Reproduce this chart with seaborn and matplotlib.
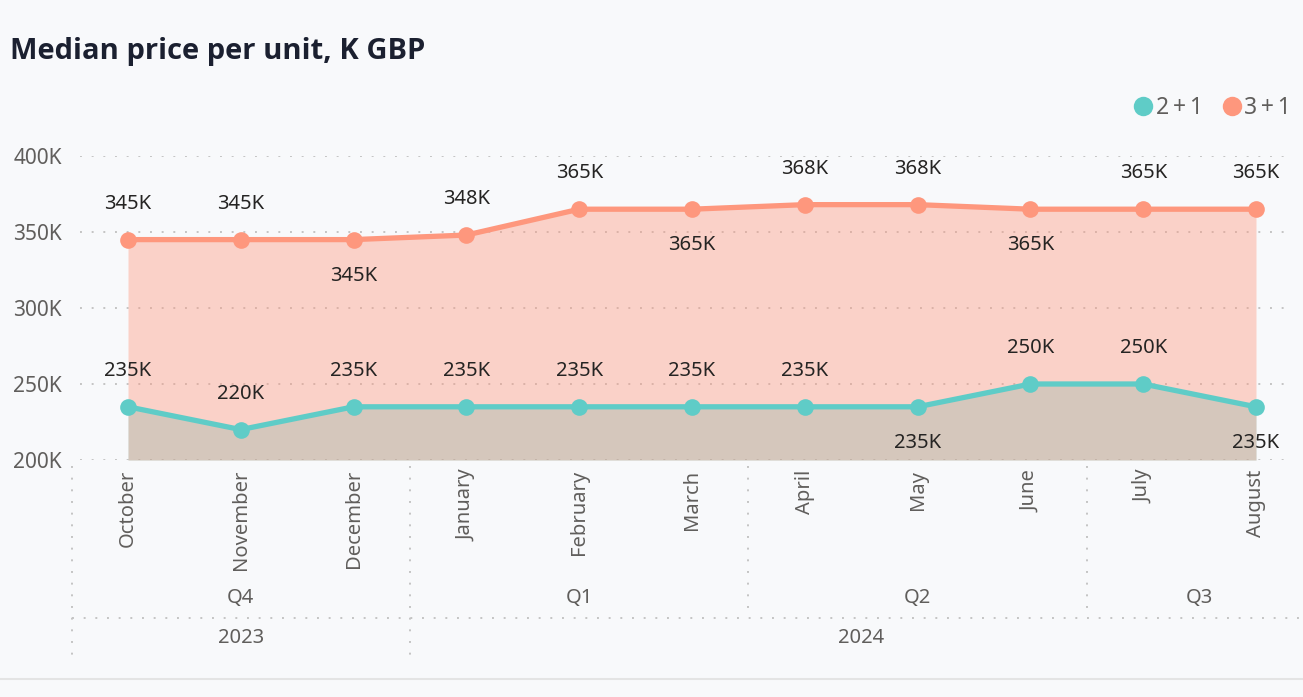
import matplotlib
matplotlib.use("Agg")
import matplotlib.pyplot as plt
import matplotlib.transforms as mtransforms
from matplotlib.lines import Line2D
import seaborn as sns
import pandas as pd

# ---------------- data ----------------
months = ["October", "November", "December", "January", "February", "March",
          "April", "May", "June", "July", "August"]
quarters = ["Q4", "Q1", "Q2", "Q3"]
quarter_sizes = [3, 3, 3, 2]
years = ["2023", "2024"]
year_sizes = [3, 8]
series_names = ["2+1", "3+1"]
values_2p1 = [235, 220, 235, 235, 235, 235, 235, 235, 250, 250, 235]
values_3p1 = [345, 345, 345, 348, 365, 365, 368, 368, 365, 365, 365]
# label placement: 1 = above, -1 = below
pos_2p1 = [1, 1, 1, 1, 1, 1, 1, -1, 1, 1, -1]
pos_3p1 = [1, 1, -1, 1, 1, -1, 1, 1, -1, 1, 1]
yticks = [200, 250, 300, 350, 400]

# ---------------- style ----------------
BG = "#F8F9FB"
TEAL = "#5FCCC7"
CORAL = "#FE977D"
GRID = "#C4C4C4"
TICK = "#605E5C"
LABEL = "#252423"
TITLE = "#1B2030"
FS = 14.5

sns.set_theme(style="white")
plt.rcParams["font.family"] = ["Noto Sans", "DejaVu Sans"]

W, H = 1303, 697
fig = plt.figure(figsize=(W / 100, H / 100), dpi=100, facecolor=BG)

def fx(px):
    return px / W

def fy(py):
    return 1 - py / H

ax_left, ax_right, ax_top, ax_bot = 80, 1290, 156, 460
ax = fig.add_axes([fx(ax_left), fy(ax_bot), fx(ax_right - ax_left), (ax_bot - ax_top) / H])
ax.set_facecolor(BG)

step = 112.8
x0px = 128
ax.set_xlim((ax_left - x0px) / step, (ax_right - x0px) / step)
ax.set_ylim(200, 400)

idx = list(range(len(months)))
df = pd.DataFrame({
    "idx": idx * 2,
    "value": values_2p1 + values_3p1,
    "series": [series_names[0]] * len(idx) + [series_names[1]] * len(idx),
})

# areas
ax.fill_between(idx, values_2p1, 200, color=TEAL, alpha=0.4, lw=0, zorder=1)
ax.fill_between(idx, values_3p1, 200, color=CORAL, alpha=0.4, lw=0, zorder=1.1)

sns.lineplot(data=df, x="idx", y="value", hue="series",
             palette={series_names[0]: TEAL, series_names[1]: CORAL},
             marker="o", markersize=12, markeredgewidth=0, linewidth=3.8,
             legend=False, ax=ax, zorder=3)

# grid
ax.set_yticks(yticks)
ax.set_yticklabels([f"{v}K" for v in yticks])
ax.yaxis.grid(True, color=GRID, linestyle=(0, (1, 5)), linewidth=1.4)
ax.xaxis.grid(False)
ax.set_axisbelow(True)
for s in ax.spines.values():
    s.set_visible(False)
ax.tick_params(axis="y", length=0, pad=13, labelsize=FS + 0.5, labelcolor=TICK)
ax.set_xticks(idx)
ax.set_xticklabels(months, rotation=90, va="top", ha="center")
ax.tick_params(axis="x", length=0, pad=7, labelsize=FS, labelcolor=TICK)
ax.set_xlabel("")
ax.set_ylabel("")

# data labels
for vals, pos in ((values_2p1, pos_2p1), (values_3p1, pos_3p1)):
    for i, (v, p) in enumerate(zip(vals, pos)):
        ax.annotate(f"{v}K", (i, v), xytext=(0, 36 * p), textcoords="offset pixels",
                    ha="center", va="center", fontsize=FS, color=LABEL,
                    clip_on=False, zorder=5)

# hierarchical axis
trans = mtransforms.blended_transform_factory(ax.transData, fig.transFigure)
dot = dict(color=GRID, linestyle=(0, (1, 5)), linewidth=1.4, clip_on=False)

fig.add_artist(Line2D([fx(72), 1.0], [fy(618), fy(618)], **dot))

start = -0.5
for q, n in zip(quarters, quarter_sizes):
    ax.text(start + n / 2, fy(598), q, transform=trans, ha="center", va="center",
            fontsize=FS, color=TICK)
    start += n

ystart = -0.5
year_bounds = []
for yname, n in zip(years, year_sizes):
    ax.text(ystart + n / 2, fy(638), yname, transform=trans, ha="center", va="center",
            fontsize=FS, color=TICK)
    year_bounds.append(ystart)
    ystart += n

start = -0.5
for n in quarter_sizes:
    bottom = 658 if start in year_bounds else 610
    ax.add_line(Line2D([start, start], [fy(466), fy(bottom)], transform=trans, **dot))
    start += n

# bottom border
fig.add_artist(Line2D([0, 1], [fy(679), fy(679)], color="#E4E4E4", linewidth=1.5))

# title
fig.text(fx(10), fy(51), "Median price per unit, K GBP", ha="left", va="center",
         fontsize=21, fontweight="bold", color=TITLE, family=["Open Sans", "DejaVu Sans"])

# legend
handles = [Line2D([], [], marker="o", linestyle="none", markersize=14,
                  markerfacecolor=c, markeredgewidth=0) for c in (TEAL, CORAL)]
legend_labels = [s.replace("+", "\u2009+\u2009") for s in series_names]
leg = fig.legend(handles, legend_labels, loc="center right",
                 bbox_to_anchor=(fx(1291), fy(108)), frameon=False, ncol=2,
                 handletextpad=0.05, columnspacing=0.75, handlelength=1.0,
                 fontsize=16.5, borderaxespad=0, borderpad=0)
for t in leg.get_texts():
    t.set_color(TICK)

fig.savefig("out.png", dpi=100, facecolor=BG)
